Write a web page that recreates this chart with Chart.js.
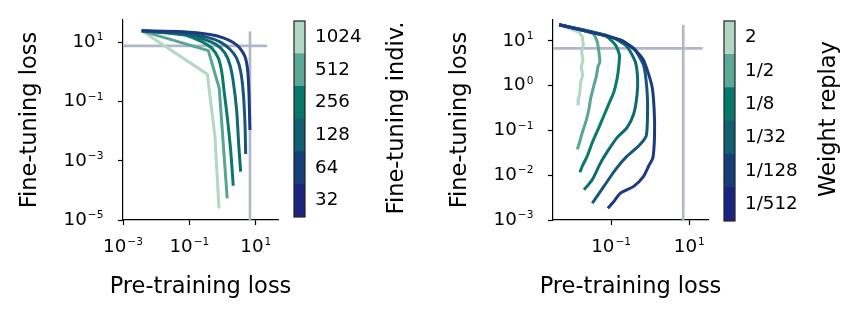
<!DOCTYPE html>
<html>
<head>
<meta charset="utf-8">
<script src="https://cdn.jsdelivr.net/npm/chart.js@4.4.1/dist/chart.umd.min.js"></script>
<style>
  body { margin: 0; background: #fff; }
  #wrap { position: relative; width: 850px; height: 320px; }
  canvas { position: absolute; top: 0; }
</style>
</head>
<body>
<div id="wrap">
  <canvas id="indivChart" width="300" height="320" style="left:0px"></canvas>
  <canvas id="indivBar" width="150" height="320" style="left:280px"></canvas>
  <canvas id="replayChart" width="300" height="320" style="left:430px"></canvas>
  <canvas id="replayBar" width="140" height="320" style="left:710px"></canvas>
</div>
<script>
// colours, darkest first
const curveColors = ["#1d3a80", "#17567b", "#106a72", "#0a7a6b", "#58a593", "#b2d8c4"];
const barColors = ["#b2d8c5", "#5aa895", "#07776a", "#115f70", "#163f7a", "#1b247f"];
const refColor = "#b0b7c7";

// left panel: fine-tuning individuals
const indivLabels = ["32", "64", "128", "256", "512", "1024"];
const indivPre32 = [0.00366, 0.0655, 0.417, 1.05, 2.10, 3.34, 4.73, 5.69, 6.24, 6.68];
const indivFt32 = [24.1, 22.3, 18.1, 13.96, 9.70, 6.27, 3.27, 1.16, 0.189, 0.0109];
const indivPre64 = [0.00366, 0.0655, 0.332, 0.836, 1.67, 2.65, 3.51, 4.22, 4.73, 4.97];
const indivFt64 = [24.1, 20.1, 14.8, 10.2, 5.79, 2.88, 1.02, 0.189, 0.0184, 0.00168];
const indivPre128 = [0.00366, 0.0655, 0.262, 0.664, 1.18, 1.67, 2.10, 2.65, 3.05, 3.51];
const indivFt128 = [24.1, 19.1, 12.6, 8.11, 4.25, 1.71, 0.467, 0.0516, 0.00387, 0.000427];
const indivPre256 = [0.00366, 0.0655, 0.234, 0.470, 0.743, 0.94, 1.10, 1.38, 1.75, 2.10];
const indivFt256 = [24.1, 17.7, 10.5, 6.27, 2.88, 1.02, 0.245, 0.0306, 0.0023, 0.000143];
const indivPre512 = [0.00366, 0.372, 0.794, 1.38];
const indivFt512 = [24.1, 5.2, 0.279, 0.0000537];
const indivPre1024 = [0.00366, 0.347, 0.590, 0.78];
const indivFt1024 = [24.1, 0.83, 0.00647, 0.0000247];
const indivRefH = { y: 7.5, x: [0.001, 22] };
const indivRefV = { x: 6.7, y: [0.00001, 23] };
const indivXTicks = [-3, -1, 1];
const indivYTicks = [1, -1, -3, -5];

// right panel: weight replay
const replayLabels = ["1/512", "1/128", "1/32", "1/8", "1/2", "2"];
const replayPre512 = [0.00466, 0.173, 0.415, 0.676, 1.10, 1.26, 1.29, 1.17, 0.908, 0.676, 0.377, 0.173, 0.117, 0.082];
const replayFt512 = [22.5, 10.3, 6.15, 3.66, 1.0, 0.299, 0.075, 0.0244, 0.0158, 0.00942, 0.00561, 0.00397, 0.00258, 0.00182];
const replayPre128 = [0.00466, 0.142, 0.377, 0.676, 0.822, 0.855, 0.791, 0.505, 0.255, 0.129, 0.0650, 0.0328];
const replayFt128 = [22.5, 10.9, 6.71, 2.82, 0.843, 0.252, 0.075, 0.0447, 0.0265, 0.0133, 0.00561, 0.00236];
const replayPre32 = [0.00466, 0.0960, 0.255, 0.415, 0.476, 0.458, 0.377, 0.255, 0.142, 0.0871, 0.0535, 0.0328, 0.0201];
const replayFt32 = [22.5, 12.3, 7.31, 3.36, 1.42, 0.597, 0.231, 0.115, 0.0687, 0.0375, 0.0188, 0.00793, 0.00471];
const replayPre8 = [0.00466, 0.0650, 0.129, 0.163, 0.156, 0.142, 0.117, 0.0871, 0.0650, 0.0484, 0.0328, 0.0244, 0.0182, 0.0159];
const replayFt8 = [22.5, 13.4, 7.98, 4.74, 2.59, 1.42, 0.708, 0.387, 0.211, 0.115, 0.053, 0.0266, 0.0158, 0.0116];
const replayPre2 = [0.00466, 0.0328, 0.0440, 0.0484, 0.0514, 0.0457, 0.0423, 0.0361, 0.0297, 0.0270, 0.0222, 0.0182, 0.0159, 0.0136];
const replayFt2 = [22.5, 14.6, 9.48, 5.64, 3.36, 2.59, 1.68, 1.0, 0.501, 0.299, 0.150, 0.0891, 0.0578, 0.0375];
const replayPreX2 = [0.00466, 0.0150, 0.0182, 0.0194, 0.0175, 0.0190, 0.0172, 0.0186, 0.0166, 0.0159, 0.0150, 0.0142];
const replayFtX2 = [22.5, 15.4, 12.3, 7.98, 5.65, 3.66, 2.59, 1.68, 1.19, 0.773, 0.547, 0.355];
const replayRefH = { y: 6.7, x: [0.00324, 22] };
const replayRefV = { x: 7.0, y: [0.001, 22.6] };
const replayXTicks = [-1, 1];
const replayYTicks = [1, 0, -1, -2, -3];

const FONT = "'DejaVu Sans', sans-serif";
const TICK_SIZE = 18.3;
const TITLE_SIZE = 22.5;
Chart.defaults.font.family = FONT;
Chart.defaults.color = "#000";

function pts(xs, ys) {
  return xs.map((x, i) => ({ x, y: ys[i] }));
}

function curve(xs, ys, color, tension) {
  return {
    data: pts(xs, ys),
    showLine: true,
    borderColor: color,
    borderWidth: 3,
    pointRadius: 0,
    tension: tension,
    borderCapStyle: "butt",
    order: 1,
  };
}

function refLines(h, v) {
  const base = { showLine: true, borderColor: refColor, borderWidth: 2.6, pointRadius: 0, order: 10 };
  return [
    { ...base, data: [{ x: h.x[0], y: h.y }, { x: h.x[1], y: h.y }] },
    { ...base, data: [{ x: v.x, y: v.y[0] }, { x: v.x, y: v.y[1] }] },
  ];
}

// "10" with a raised exponent, matplotlib style, plus the x title
// (chart.js squeezes a title wider than the axis)
const powTicks = {
  id: "powTicks",
  afterDraw(chart, args, opts) {
    const ctx = chart.ctx;
    ctx.save();
    ctx.fillStyle = "#000";
    ctx.textBaseline = "alphabetic";
    ctx.textAlign = "left";
    ["x", "y"].forEach(id => {
      const s = chart.scales[id];
      s.ticks.forEach(t => {
        const e = Math.round(Math.log10(t.value));
        const exp = String(e).replace("-", "\u2212");
        ctx.font = TICK_SIZE + "px " + FONT;
        const wb = ctx.measureText("10").width;
        ctx.font = (TICK_SIZE * 0.58) + "px " + FONT;
        const we = ctx.measureText(exp).width + 1;
        const p = s.getPixelForValue(t.value);
        let x0, yb;
        if (id === "x") {
          x0 = p - (wb + we) / 2;
          yb = s.top + 31.7;
        } else {
          x0 = s.right - 19.5 - wb - we;
          yb = p + 5;
        }
        ctx.font = TICK_SIZE + "px " + FONT;
        ctx.fillText("10", x0, yb);
        ctx.font = (TICK_SIZE * 0.58) + "px " + FONT;
        ctx.fillText(exp, x0 + wb + 1, yb - TICK_SIZE * 0.37);
      });
    });
    const a = chart.chartArea;
    ctx.font = TITLE_SIZE + "px " + FONT;
    ctx.textAlign = "center";
    ctx.textBaseline = "middle";
    ctx.fillText(opts.xTitle, (a.left + a.right) / 2, 287);
    ctx.restore();
  },
};

function logAxis(min, max, exps, title, isX) {
  return {
    type: "logarithmic",
    min, max,
    afterBuildTicks: s => { s.ticks = exps.map(e => ({ value: Math.pow(10, e) })); },
    afterFit: s => { if (isX) s.height = 100; else s.width = 123; },
    ticks: { display: false, autoSkip: false },
    grid: { drawOnChartArea: false, drawTicks: true, tickLength: 5, tickWidth: 1.2, tickColor: "#000" },
    border: { display: true, color: "#000", width: 1.2 },
    title: {
      display: !isX,
      text: title,
      font: { size: TITLE_SIZE },
      padding: { top: 16.5, bottom: 0 },
    },
  };
}

function drawPanel(id, datasets, xr, yr, xTicks, yTicks) {
  new Chart(document.getElementById(id), {
    type: "scatter",
    data: { datasets },
    plugins: [powTicks],
    options: {
      responsive: false,
      animation: false,
      layout: { padding: { top: 20, right: 22, left: 0, bottom: 0 } },
      plugins: {
        legend: { display: false },
        tooltip: { enabled: false },
        powTicks: { xTitle: "Pre-training loss" },
      },
      scales: {
        x: logAxis(xr[0], xr[1], xTicks, "Pre-training loss", true),
        y: logAxis(yr[0], yr[1], yTicks, "Fine-tuning loss", false),
      },
    },
  });
}

// outline and rotated title for the colour bars
const barDecor = {
  id: "barDecor",
  afterDraw(chart, args, opts) {
    const { ctx, chartArea: a } = chart;
    ctx.save();
    ctx.strokeStyle = "#222";
    ctx.lineWidth = 1.2;
    ctx.strokeRect(a.left, a.top, a.right - a.left, a.bottom - a.top);
    ctx.translate(opts.x, opts.y);
    ctx.rotate(-Math.PI / 2);
    ctx.font = TITLE_SIZE + "px " + FONT;
    ctx.fillStyle = "#000";
    ctx.textAlign = "center";
    ctx.textBaseline = "middle";
    ctx.fillText(opts.text, 0, 0);
    ctx.restore();
  },
};

function drawBar(id, labels, width, pad, title) {
  new Chart(document.getElementById(id), {
    type: "bar",
    data: {
      labels,
      datasets: [{ data: labels.map(() => 1), backgroundColor: barColors, barPercentage: 1, categoryPercentage: 1 }],
    },
    plugins: [barDecor],
    options: {
      indexAxis: "y",
      responsive: false,
      animation: false,
      layout: { padding: { left: 14, top: pad.top, bottom: 320 - pad.bottom, right: 0 } },
      plugins: {
        legend: { display: false },
        tooltip: { enabled: false },
        barDecor: { text: title, x: pad.titleX, y: pad.titleY },
      },
      scales: {
        x: { display: false, min: 0, max: 1 },
        y: {
          position: "right",
          afterFit: s => { s.width = width - 25; },
          grid: { display: false, drawTicks: false },
          border: { display: false },
          ticks: { font: { size: TICK_SIZE }, padding: 10 },
        },
      },
    },
  });
}

const indivSets = [
  curve(indivPre32, indivFt32, curveColors[0], 0.3),
  curve(indivPre64, indivFt64, curveColors[1], 0.3),
  curve(indivPre128, indivFt128, curveColors[2], 0.3),
  curve(indivPre256, indivFt256, curveColors[3], 0.3),
  curve(indivPre512, indivFt512, curveColors[4], 0),
  curve(indivPre1024, indivFt1024, curveColors[5], 0),
  ...refLines(indivRefH, indivRefV),
];
drawPanel("indivChart", indivSets, [0.001, 46.8], [0.00001, 56], indivXTicks, indivYTicks);

const replaySets = [
  curve(replayPre512, replayFt512, curveColors[0], 0.2),
  curve(replayPre128, replayFt128, curveColors[1], 0.2),
  curve(replayPre32, replayFt32, curveColors[2], 0.2),
  curve(replayPre8, replayFt8, curveColors[3], 0.2),
  curve(replayPre2, replayFt2, curveColors[4], 0.2),
  curve(replayPreX2, replayFtX2, curveColors[5], 0),
  ...refLines(replayRefH, replayRefV),
];
drawPanel("replayChart", replaySets, [0.00324, 30.2], [0.001, 28.8], replayXTicks, replayYTicks);

drawBar("indivBar", indivLabels.slice().reverse(), 150, { top: 21, bottom: 217, titleX: 117, titleY: 118 }, "Fine-tuning indiv.");
drawBar("replayBar", replayLabels.slice().reverse(), 140, { top: 20, bottom: 221, titleX: 119, titleY: 119 }, "Weight replay");
</script>
</body>
</html>
